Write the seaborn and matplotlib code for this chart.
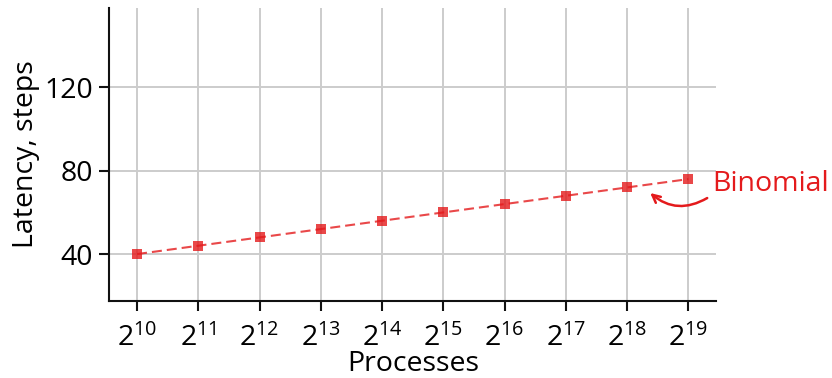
import numpy as np
import pandas as pd
import matplotlib
matplotlib.use("Agg")
import matplotlib.pyplot as plt
import seaborn as sns

# Binomial-tree broadcast latency vs. process count
exponents = [10, 11, 12, 13, 14, 15, 16, 17, 18, 19]
latency = [40, 44, 48, 52, 56, 60, 64, 68, 72, 76]
series_name = "Binomial"
y_ticks = [40, 80, 120]

processes = [2 ** e for e in exponents]
df = pd.DataFrame({"Processes": processes, "Latency": latency})

sns.set_style("ticks")
plt.rcParams["font.family"] = ["Open Sans", "DejaVu Sans"]
plt.rcParams["mathtext.fontset"] = "custom"
plt.rcParams["mathtext.rm"] = "Open Sans"
plt.rcParams["mathtext.it"] = "Open Sans"
plt.rcParams["text.color"] = "black"
plt.rcParams["axes.labelcolor"] = "black"
plt.rcParams["xtick.color"] = "black"
plt.rcParams["ytick.color"] = "black"

red = "#e41a1c"
fs = 20.5

fig = plt.figure(figsize=(8.32, 3.78), dpi=100)
ax = fig.add_axes([0.1316, 0.205, 0.8606 - 0.1316, 0.978 - 0.205])

sns.lineplot(data=df, x="Processes", y="Latency", ax=ax, color=red,
             linestyle=(0, (4.8, 2.4)), linewidth=1.5, alpha=0.8,
             marker="s", markersize=6.5, markeredgewidth=0,
             markerfacecolor=red, zorder=3)

ax.set_xscale("log", base=2)
ax.set_xlim(2 ** 9.55, 2 ** 19.45)
ax.set_ylim(17.7, 158)
ax.set_xticks(processes)
ax.set_xticklabels([f"$2^{{{e}}}$" for e in exponents])
ax.xaxis.set_minor_locator(matplotlib.ticker.NullLocator())
ax.set_yticks(y_ticks)

ax.grid(True, color="#cccccc", linewidth=1.4)
ax.set_axisbelow(True)
for side in ("top", "right"):
    ax.spines[side].set_visible(False)
for side in ("left", "bottom"):
    ax.spines[side].set_linewidth(1.5)
    ax.spines[side].set_color("#111111")

ax.tick_params(axis="both", labelsize=fs, length=7, width=1.5, color="#111111")
ax.tick_params(axis="y", pad=5)
ax.tick_params(axis="x", pad=10)
ax.set_xlabel("Processes", fontsize=fs, labelpad=-2)
ax.set_ylabel("Latency, steps", fontsize=fs, labelpad=3)

# series label with a curved pointer to the line
ax.text(2 ** 19.39, 73.6, series_name, color=red, fontsize=fs,
        ha="left", va="center", clip_on=False)
ax.annotate("", xy=(2 ** 18.376, 69.3), xytext=(2 ** 19.306, 66.9),
            arrowprops=dict(arrowstyle="->", color=red, lw=1.8,
                            connectionstyle="arc3,rad=-0.35",
                            shrinkA=0, shrinkB=0,
                            mutation_scale=14),
            annotation_clip=False)

fig.savefig("out.png", dpi=100)
